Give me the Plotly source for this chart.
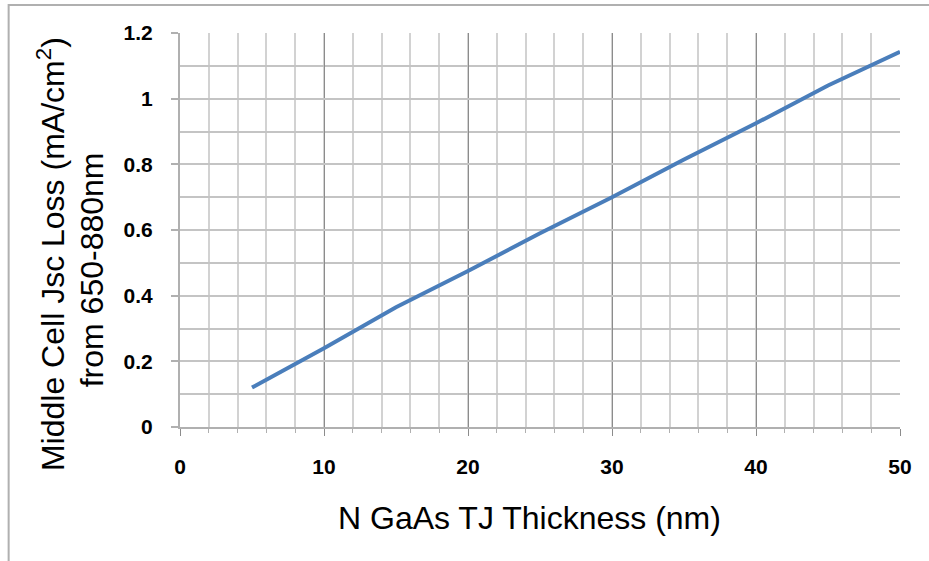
import plotly.graph_objects as go

thickness = [5, 10, 15, 20, 25, 30, 35, 40, 45, 50]
jsc_loss = [0.12, 0.24, 0.365, 0.475, 0.59, 0.70, 0.815, 0.925, 1.04, 1.143]

x_tickvals = [0, 10, 20, 30, 40, 50]
x_ticktext = ["0", "10", "20", "30", "40", "50"]
y_tickvals = [0, 0.2, 0.4, 0.6, 0.8, 1.0, 1.2]
y_ticktext = ["0", "0.2", "0.4", "0.6", "0.8", "1", "1.2"]

x_title = "N GaAs TJ Thickness (nm)"
y_title_1 = "Middle Cell Jsc Loss (mA/cm<sup>2</sup>)"
y_title_2 = "from 650-880nm"

fig = go.Figure()
fig.add_trace(go.Scatter(
    x=thickness, y=jsc_loss, mode="lines",
    line=dict(color="#4a7ebb", width=4),
    showlegend=False,
))

tick_font = dict(family="Liberation Sans, Arial", size=21, color="black", weight="bold")

fig.update_xaxes(
    range=[0, 50], tickvals=x_tickvals, ticktext=x_ticktext,
    showgrid=True, gridcolor="#8c8c8c", gridwidth=1,
    showline=True, linecolor="#b0b0b0", linewidth=2,
    ticks="outside", ticklen=7, tickcolor="#8c8c8c", tickwidth=1,
    tickfont=tick_font, ticklabelstandoff=13,
    minor=dict(dtick=2, showgrid=True, gridcolor="#d2d2d2", gridwidth=2,
               ticks="outside", ticklen=4, tickcolor="#b0b0b0"),
    zeroline=False, fixedrange=True,
)
fig.update_yaxes(
    range=[0, 1.2], tickvals=y_tickvals, ticktext=y_ticktext,
    showgrid=True, gridcolor="#c4c4c4", gridwidth=2,
    showline=True, linecolor="#b0b0b0", linewidth=2,
    ticks="outside", ticklen=7, tickcolor="#b0b0b0", tickwidth=2,
    tickfont=tick_font, ticklabelstandoff=14,
    minor=dict(dtick=0.1, showgrid=True, gridcolor="#c4c4c4", gridwidth=2),
    zeroline=False, fixedrange=True,
)

title_font = dict(family="Liberation Sans, Arial", size=32, color="black")

fig.add_annotation(text=x_title, xref="paper", yref="paper",
                   x=0.485, y=-0.23, xanchor="center", yanchor="middle",
                   showarrow=False, font=title_font)
fig.add_annotation(text=y_title_1, xref="paper", yref="paper",
                   x=-0.18, y=0.44, xanchor="center", yanchor="middle",
                   textangle=-90, showarrow=False, font=title_font)
fig.add_annotation(text=y_title_2, xref="paper", yref="paper",
                   x=-0.121, y=0.40, xanchor="center", yanchor="middle",
                   textangle=-90, showarrow=False, font=title_font)

fig.add_shape(type="rect", xref="paper", yref="paper",
              x0=-0.238, x1=1.06, y0=-0.37, y1=1.071,
              line=dict(color="#b0b0b0", width=2), layer="below")

fig.update_layout(
    width=929, height=561,
    margin=dict(l=180, r=29, t=33, b=134, pad=0),
    paper_bgcolor="white", plot_bgcolor="white",
)

fig.write_html("out.html")
